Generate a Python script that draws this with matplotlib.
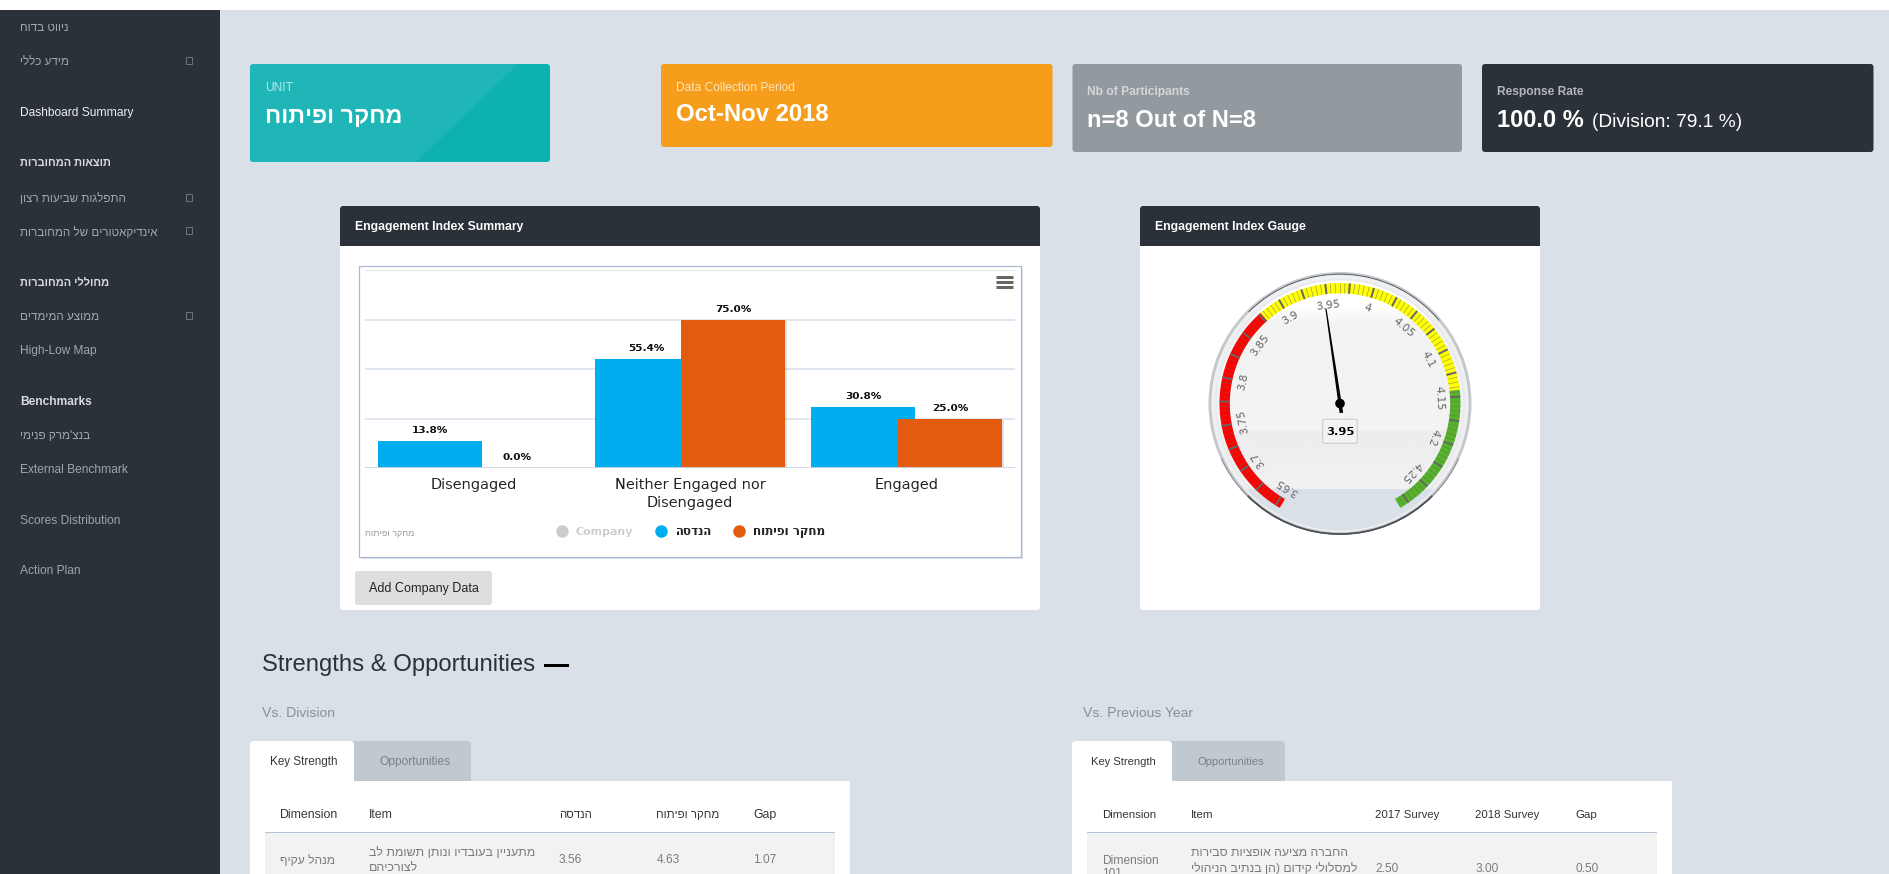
import numpy as np
import matplotlib
matplotlib.use("Agg")
import matplotlib.pyplot as plt
from matplotlib.patches import Rectangle, FancyBboxPatch, Circle, Wedge, Polygon
import matplotlib.patheffects as pe

plt.rcParams['text.hinting'] = 'native'
plt.rcParams['text.hinting_factor'] = 8

W, H = 1890, 874
SANS = ['Liberation Sans', 'DejaVu Sans']
CHART = ['DejaVu Sans']

# ---- data ----
categories = ["Disengaged", "Neither Engaged nor\nDisengaged", "Engaged"]
series_division = "הנדסה"
series_unit = "מחקר ופיתוח"
series_company = "Company"
division_values = [13.8, 55.4, 30.8]
unit_values = [0.0, 75.0, 25.0]
y_ticks = [0, 25, 50, 75, 100]

gauge_min = 3.645
gauge_max = 4.285
gauge_value = 3.947
gauge_labels = [3.65, 3.7, 3.75, 3.8, 3.85, 3.9, 3.95, 4, 4.05, 4.1, 4.15, 4.2, 4.25]
gauge_red_to = 3.877
gauge_yellow_to = 4.143
gauge_tick_step = 0.005
gauge_major_step = 0.025

nav_items = [
    ("ניווט בדוח", 26.8, "n", False),
    ("מידע כללי", 60.5, "n", True),
    ("Dashboard Summary", 111.4, "a", False),
    ("תוצאות המחוברות", 162.6, "h", False),
    ("התפלגות שביעות רצון", 197, "n", True),
    ("אינדיקאטורים של המחוברות", 230.8, "n", True),
    ("מחוללי המחוברות", 281.7, "h", False),
    ("ממוצע המימדים", 315.7, "n", True),
    ("High-Low Map", 349.4, "n", False),
    ("Benchmarks", 400.3, "h", False),
    ("בנצ'מרק פנימי", 434.4, "n", False),
    ("External Benchmark", 468.4, "n", False),
    ("Scores Distribution", 519.3, "n", False),
    ("Action Plan", 570.2, "n", False),
]


def rtl(s):
    """matplotlib has no bidi layout: put a Hebrew string in visual order."""
    return s[::-1].translate(str.maketrans("()", ")("))


def is_he(s):
    return any('\u0590' <= c <= '\u05ff' for c in s)


fig = plt.figure(figsize=(W / 100, H / 100), dpi=100, facecolor='#d9e0e8')


def axes_px(x0, y0, x1, y1, **kw):
    return fig.add_axes([x0 / W, 1 - y1 / H, (x1 - x0) / W, (y1 - y0) / H], **kw)


ax = axes_px(0, 0, W, H)
ax.set_xlim(0, W)
ax.set_ylim(H, 0)
ax.axis('off')
ax.set_zorder(0)

PX = 0.72  # points per pixel at dpi 100


def T(x, y, s, size, color='#333333', weight='normal', ha='left', va='center', family=None, **kw):
    txt = rtl(s) if is_he(s) else s
    return ax.text(x, y + 0.8, txt, fontsize=size * PX, color=color, weight=weight, ha=ha, va=va,
                   family=family or SANS, **kw)


def rrect(x0, y0, x1, y1, color, r=3, z=1, **kw):
    p = FancyBboxPatch((x0, y0), x1 - x0, y1 - y0, boxstyle=f"round,pad=0,rounding_size={r}",
                       fc=color, ec='none', zorder=z, **kw)
    ax.add_patch(p)
    return p


def rect(x0, y0, x1, y1, color, z=1, **kw):
    p = Rectangle((x0, y0), x1 - x0, y1 - y0, fc=color, ec='none', zorder=z, **kw)
    ax.add_patch(p)
    return p


# page
rect(0, 0, W, 9.5, 'white')
rect(0, 9.5, 220, H, '#2b3139')

# sidebar
styles = {"n": ('#a2a7ac', 'normal'), "a": ('#f2f3f4', 'normal'), "h": ('#d9dbdd', 'bold')}
for label, y, kind, icon in nav_items:
    c, w = styles[kind]
    size = (11 if kind == "h" else 11.6) if is_he(label) else 12
    T(20.4, y, label, size, color=c, weight=w)
    if icon:
        ax.add_patch(Rectangle((186, y - 3.5), 6, 7, fc='none', ec='#70767d', lw=0.7, zorder=2))

# KPI cards
rrect(250, 64, 550, 162, '#20b6b7')
p = Polygon([(518, 64), (547, 64), (550, 67), (550, 159), (547, 162), (416, 162)], fc='#0db1b1', ec='none', zorder=1.5)
ax.add_patch(p)
T(265, 87, "UNIT", 12, color='#b4e6e6')
T(265, 116, "מחקר ופיתוח", 23.3, color='white', weight='bold')

rrect(661, 64, 1052.5, 147, '#f69d1b')
T(676, 87, "Data Collection Period", 12, color='#fbe6c2')
T(676, 114, "Oct-Nov 2018", 23.9, color='white', weight='bold')

rrect(1072.5, 64, 1462, 152, '#92999f')
T(1087, 91, "Nb of Participants", 12, color='#d5d8da', weight='bold')
T(1087, 120, "n=8 Out of N=8", 23.8, color='white', weight='bold')

rrect(1482, 64, 1873.5, 152, '#2b3139')
T(1497, 91, "Response Rate", 12, color='#b4b7ba', weight='bold')
T(1497, 120, "100.0 %", 23.6, color='white', weight='bold')
T(1592.5, 121, "(Division: 79.1 %)", 19.2, color='white')

# panels
for x0, x1, title in [(340, 1040, "Engagement Index Summary"), (1140, 1540, "Engagement Index Gauge")]:
    rrect(x0, 206, x1, 610, 'white')
    rrect(x0, 206, x1, 240, '#2b3139')
    rect(x0, 236, x1, 246, '#2b3139')
    T(x0 + 15, 225.7, title, 12.2, color='white', weight='bold')

# chart frame
rect(361, 267.5, 1023, 559, '#dfe3ea', z=2)
ax.add_patch(Rectangle((359, 265.5), 662, 291, fc='white', ec='#a9b9d6', lw=0.9, zorder=2.2))

# button
rrect(355, 571, 492, 605, '#dddedd', r=3, z=2)
T(423.5, 588, "Add Company Data", 12.6, color='#222222', ha='center', zorder=3)

# chart
ch = axes_px(365, 270.3, 1015, 468.5)
ch.set_zorder(1)
ch.patch.set_alpha(0)
x = np.arange(len(categories))
bar_w, off = 0.48, 0.2
shadow = [pe.SimplePatchShadow(offset=(1.5, -0.5), alpha=0.12, shadow_rgbFace='k'), pe.Normal()]
b1 = ch.bar(x - off, division_values, bar_w, color='#00aeef', zorder=3)
b2 = ch.bar(x + off, unit_values, bar_w, color='#e25b0e', zorder=4)
for b in b2:
    b.set_path_effects(shadow)
for bars, vals in ((b1, division_values), (b2, unit_values)):
    for b, v in zip(bars, vals):
        ch.annotate(f"{v:.1f}%", (b.get_x() + b.get_width() / 2, v), xytext=(0, 11 * PX),
                    textcoords='offset points', ha='center', va='center',
                    fontsize=10.5 * PX, weight='bold', color='#111111', family=CHART, zorder=6)
ch.set_xlim(-0.5, 2.5)
ch.set_ylim(0, 100)
ch.set_yticks(y_ticks)
ch.set_yticklabels([])
ch.set_xticks(x)
ch.set_xticklabels(categories, fontsize=14.5 * PX, color='#222222', family=CHART, linespacing=1.3, va='top')
ch.tick_params(length=0, pad=7)
ch.grid(axis='y', color='#d7dfe9', lw=1.1, zorder=0)
ch.set_axisbelow(True)
for s in ch.spines.values():
    s.set_visible(False)
ch.axhline(0, color='#cfd8e3', lw=1.3, zorder=5)

# chart legend & credits (drawn on a top overlay)
ov = axes_px(0, 0, W, H)
ov.set_xlim(0, W)
ov.set_ylim(H, 0)
ov.axis('off')
ov.set_zorder(2)
ov.patch.set_alpha(0)
for mx, tx, label, mc, tc, fs in [(562, 575, series_company, '#cccccc', '#cccccc', 11),
                                  (661, 675, series_division, '#00aeef', '#222222', 11.8),
                                  (739, 753, series_unit, '#e25b0e', '#222222', 11.8)]:
    ov.plot([mx], [530.7], 'o', ms=10 * PX * 1.25, color=mc, mec='none')
    ov.text(tx, 531.5, rtl(label) if is_he(label) else label, fontsize=fs * PX, weight='bold',
            color=tc, ha='left', va='center', family=CHART)
ov.text(365, 533.5, rtl(series_unit), fontsize=9 * PX, color='#9a9a9a', ha='left', va='center', family=SANS)
for yy in (276.5, 281.7, 287):
    ov.plot([995.5, 1012.5], [yy, yy], color='#666666', lw=3 * PX, solid_capstyle='butt')

# gauge
GX, GY = 1340, 403.5
ga = axes_px(GX - 140, GY - 140, GX + 140, GY + 140)
ga.set_xlim(-140, 140)
ga.set_ylim(-140, 140)
ga.axis('off')
ga.set_zorder(3)
ga.patch.set_alpha(0)


def ang(v):
    return -150 + (v - gauge_min) / (gauge_max - gauge_min) * 300


def pol(r, a):
    t = np.radians(a)
    return r * np.sin(t), r * np.cos(t)


# rim
ga.add_patch(Circle((0, 0), 131.5, fc='#c4c7cb', ec='none'))
ga.add_patch(Wedge((0, 0), 131.3, 205, 335, width=1.0, fc='#8a8e93', ec='none'))
ga.add_patch(Wedge((0, 0), 131.3, 225, 315, width=1.6, fc='#454a50', ec='none'))
ga.add_patch(Wedge((0, 0), 129.8, 40, 135, width=1.0, fc='#5a5f65', ec='none'))
ga.add_patch(Circle((0, 0), 128.6, fc='#eef0f2', ec='none'))
ga.add_patch(Circle((0, 0), 125, fc='#e8eaed', ec='none'))
# face gradient
stops_y = [123, 95, 92, 80, 32, -28, -29, -83, -84, -123]
stops_g = [1.0, 1.0, 0.985, 0.953, 0.953, 0.953, 0.925, 0.945, 0.945, 0.945]
yy = np.linspace(123, -123, 246)
grad = np.interp(-yy, -np.array(stops_y), stops_g)
im = ga.imshow(grad[:, None], extent=(-123, 123, -123, 123), cmap='gray', vmin=0, vmax=1,
               aspect='auto', zorder=1.5, interpolation='bilinear')
im.set_clip_path(Circle((0, 0), 123, transform=ga.transData))
ga.set_xlim(-140, 140)
ga.set_ylim(-140, 140)
# page-coloured bottom of the pane
clip = Circle((0, 0), 127, transform=ga.transData)
bot = Rectangle((-130, -130), 260, 45, fc='#d9e0e8', ec='none', zorder=1.7)
ga.add_patch(bot)
bot.set_clip_path(clip)

# colour bands
R_OUT, R_IN = 120.5, 110.2
for v0, v1, c in [(gauge_min, gauge_red_to, '#ff0000'), (gauge_red_to, gauge_yellow_to, '#ffff00'),
                  (gauge_yellow_to, gauge_max, '#55b32a')]:
    ga.add_patch(Wedge((0, 0), R_OUT, 90 - ang(v1), 90 - ang(v0), width=R_OUT - R_IN, fc=c, ec='none', zorder=2))
n_minor = int(round((gauge_max - gauge_min) / gauge_tick_step))
for i in range(1, n_minor):
    v = gauge_min + i * gauge_tick_step
    a = ang(v)
    major = abs(v / gauge_major_step - round(v / gauge_major_step)) < 1e-6
    x0, y0 = pol(R_IN, a)
    x1, y1 = pol(R_OUT, a)
    ga.plot([x0, x1], [y0, y1], color='#666666', lw=(2.0 if major else 0.7) * PX,
            alpha=1 if major else 0.6, solid_capstyle='butt', zorder=2.5)
for v in gauge_labels:
    a = ang(v)
    lx, ly = pol(99.5, a)
    ga.text(lx, ly, f"{v:g}", rotation=-a, rotation_mode='anchor', ha='center', va='center',
            fontsize=11 * PX, color='#707070', family=CHART, zorder=3)
# needle
a = ang(gauge_value)
tx, ty = pol(96, a)
bx, by = pol(-9.5, a)
nx, ny = np.cos(np.radians(a)), -np.sin(np.radians(a))
ga.add_patch(Polygon([(tx + nx * 0.6, ty + ny * 0.6), (tx - nx * 0.6, ty - ny * 0.6),
                      (bx - nx * 1.8, by - ny * 1.8), (bx + nx * 1.8, by + ny * 1.8)],
                     fc='black', ec='none', zorder=4))
ga.add_patch(Circle((0, 0), 4.8, fc='black', ec='none', zorder=5))
ga.add_patch(FancyBboxPatch((-17.3, -39.8), 34.6, 24, boxstyle="round,pad=0,rounding_size=2",
                            fc='#f3f3f3', ec='#cccccc', lw=0.8, zorder=5))
ga.text(0, -28, f"{gauge_value:.2f}", ha='center', va='center', fontsize=11.5 * PX, weight='bold',
        color='black', family=CHART, zorder=6)

# strengths & opportunities
T(262.4, 664.5, "Strengths & Opportunities", 23.9, color='#2b3139')
rect(544, 663.5, 568.5, 666.5, 'black')

HEAD = '#333333'
BODY = '#7b7b7b'


def tabs(tab_x0, tab_x1, tab_x2, panel_x1, title_x, title, key_x, key_size, opp_x, opp_size):
    T(title_x, 713, title, 14, color='#8a9199')
    rrect(tab_x1 - 6, 741, tab_x2, 781, '#c0c9d0', r=4, z=1)
    rect(tab_x1 - 6, 775, tab_x2, 781, '#c0c9d0', z=1)
    rrect(tab_x0, 741, tab_x1, 781, 'white', r=4, z=1.2)
    rect(tab_x0, 775, panel_x1, H + 1, 'white', z=1.1)
    T(key_x, 761, "Key Strength", key_size, color=HEAD, zorder=3)
    T(opp_x, 761, "Opportunities", opp_size, color='#78818a', zorder=3)


def cover(x0, x1):
    rect(x0, 775, x1, 781, '#d9e0e8', z=1.15)


tabs(250, 354, 471, 850, 262.4, "Vs. Division", 270, 11.8, 379.6, 12)
cover(471, 850)
rect(354, 775, 471, 781, '#c0c9d0', z=1.16)
tabs(1072, 1172, 1285, 1672, 1083.3, "Vs. Previous Year", 1091, 11.3, 1197.4, 11.1)
cover(1285, 1672)
rect(1172, 775, 1285, 781, '#c0c9d0', z=1.16)

# left table
for x_, s, fs in [(280, "Dimension", 12.2), (368.6, "Item", 12.2), (559, "הנדסה", 11.5),
                  (656.3, "מחקר ופיתוח", 11.5), (753, "Gap", 12.2)]:
    T(x_, 814, s, fs, color=HEAD, zorder=3)
rect(265, 832, 835, 833.2, '#b3c3d3', z=2)
rect(265, 833.2, 835, H + 1, '#f2f2f2', z=1.5)
T(280, 859, "מנהל עקיף", 12, color=BODY, zorder=3)
T(368.6, 851, "מתעניין בעובדיו ונותן תשומת לב", 12.4, color=BODY, zorder=3)
T(369.4, 867, "לצורכיהם", 12.4, color=BODY, zorder=3)
for x_, s in [(559, "3.56"), (656.3, "4.63"), (753, "1.07")]:
    T(x_, 859, s, 12, color=BODY, zorder=3)

# right table
for x_, s in [(1101.8, "Dimension"), (1190.6, "Item"), (1375.4, "2017 Survey"), (1475.4, "2018 Survey"), (1575.5, "Gap")]:
    T(x_, 814, s, 11.5, color=HEAD, zorder=3)
rect(1087, 832, 1657, 833.2, '#b3c3d3', z=2)
rect(1087, 833.2, 1657, H + 1, '#f2f2f2', z=1.5)
T(1101.8, 859.3, "Dimension", 12, color=BODY, zorder=3)
T(1101.8, 873, "101", 12, color=BODY, zorder=3)
T(1191.4, 852, "החברה מציעה אופציות סבירות", 12.2, color=BODY, zorder=3)
T(1191.4, 867.3, "למסלולי קידום (הן בנתיב הניהולי", 12.2, color=BODY, zorder=3)
for x_, s in [(1375.4, "2.50"), (1475.4, "3.00"), (1575.5, "0.50")]:
    T(x_, 867.7, s, 12, color=BODY, zorder=3)

fig.savefig("out.png", dpi=100, facecolor=fig.get_facecolor())
